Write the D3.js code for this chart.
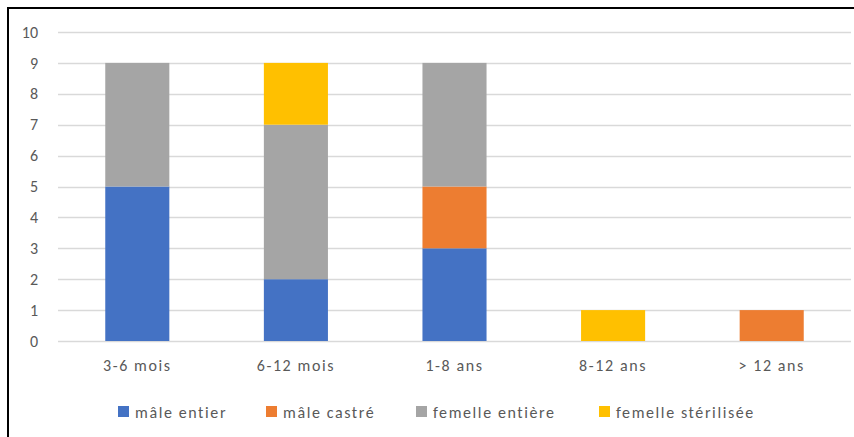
<!DOCTYPE html>
<html><head><meta charset="utf-8">
<script src="https://cdn.jsdelivr.net/npm/d3@7"></script>
<style>
html,body{margin:0;padding:0;background:#fff;}
svg{display:block;}
</style></head>
<body>
<svg id="chart" width="854" height="437"></svg>
<script>
const categories = ["3-6 mois", "6-12 mois", "1-8 ans", "8-12 ans", "> 12 ans"];
const seriesNames = ["mâle entier", "mâle castré", "femelle entière", "femelle stérilisée"];
const maleEntier = [5, 2, 3, 0, 0];
const maleCastre = [0, 0, 2, 0, 1];
const femelleEntiere = [4, 5, 4, 0, 0];
const femelleSterilisee = [0, 2, 0, 1, 0];
const yTicks = [0, 1, 2, 3, 4, 5, 6, 7, 8, 9, 10];
const colors = ["#4472C4", "#ED7D31", "#A5A5A5", "#FFC000"];

const seriesValues = [maleEntier, maleCastre, femelleEntiere, femelleSterilisee];
const table = categories.map((c, i) => {
  const row = {cat: c};
  seriesNames.forEach((s, j) => row[s] = seriesValues[j][i]);
  return row;
});

const svg = d3.select("#chart");
const font = "Carlito, Lato, 'Open Sans', sans-serif";
const plotL = 58, plotR = 851, plotT = 32, plotB = 341;

const x = d3.scaleBand().domain(categories).range([plotL, plotR]).padding(0);
const y = d3.scaleLinear().domain([0, 10]).range([plotB, plotT]);
const barW = x.bandwidth() * 0.404;

// gridlines
svg.append("g").selectAll("line").data(yTicks).join("line")
  .attr("x1", plotL).attr("x2", plotR)
  .attr("y1", d => Math.round(y(d)) + 0.5).attr("y2", d => Math.round(y(d)) + 0.5)
  .attr("stroke", "#D9D9D9").attr("stroke-width", 1.3);

// y axis labels
const yAxis = d3.axisLeft(y).tickValues(yTicks).tickSize(0).tickPadding(0);
const gy = svg.append("g").attr("transform", `translate(38,0)`).call(yAxis);
gy.select(".domain").remove();
gy.selectAll("text").attr("font-family", font).attr("font-size", 16).attr("fill", "#595959");

// stacked bars
const stack = d3.stack().keys(seriesNames)(table);
svg.append("g").selectAll("g").data(stack).join("g")
  .attr("fill", (d, i) => colors[i])
  .selectAll("rect").data(d => d.filter(p => p[1] - p[0] > 0)).join("rect")
  .attr("x", d => x(d.data.cat) + x.bandwidth() / 2 - barW / 2)
  .attr("width", barW)
  .attr("y", d => y(d[1]))
  .attr("height", d => y(d[0]) - y(d[1]));

// x axis labels
const xAxis = d3.axisBottom(x).tickSize(0).tickPadding(0);
const gx = svg.append("g").attr("transform", `translate(0,${plotB + 19})`).call(xAxis);
gx.select(".domain").remove();
gx.selectAll("text").attr("font-family", font).attr("font-size", 16)
  .attr("letter-spacing", 1.6).attr("fill", "#595959");

// legend
const legendX = [118, 266, 416, 599];
const lg = svg.append("g").selectAll("g").data(seriesNames).join("g")
  .attr("transform", (d, i) => `translate(${legendX[i]},412)`);
lg.append("rect").attr("x", 0).attr("y", -6).attr("width", 11).attr("height", 11)
  .attr("fill", (d, i) => colors[i]);
lg.append("text").attr("x", 17).attr("y", 0).attr("dy", "0.35em")
  .attr("font-family", font).attr("font-size", 16).attr("letter-spacing", 1.6)
  .attr("fill", "#595959")
  .text(d => d);

// frame borders (top and left)
svg.append("line").attr("x1", 8).attr("x2", 854).attr("y1", 8).attr("y2", 8)
  .attr("stroke", "#000").attr("stroke-width", 2);
svg.append("line").attr("x1", 8).attr("x2", 8).attr("y1", 7).attr("y2", 437)
  .attr("stroke", "#000").attr("stroke-width", 2);
</script>
</body></html>
